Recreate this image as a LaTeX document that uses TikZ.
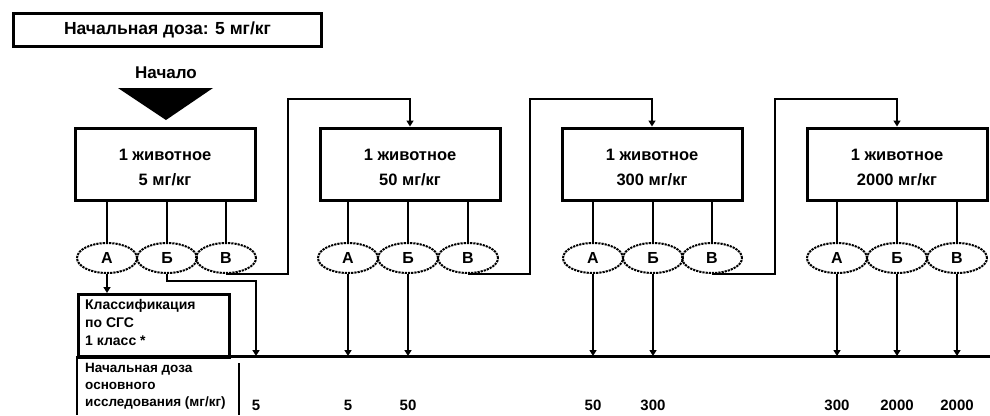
\documentclass[tikz,border=0pt]{standalone}
\usepackage{fontspec}
\setmainfont{Liberation Sans}
\usetikzlibrary{shapes.geometric,arrows.meta}
\begin{document}
\begin{tikzpicture}[x=1pt,y=-1pt,
  box/.style={draw,line width=3pt,minimum width=180pt,minimum height=72pt,inner sep=0pt},
  boxtxt/.style={align=center,font=\fontsize{16.5}{25}\selectfont\bfseries,inner sep=0pt},
  ell/.style={draw,ellipse,dash pattern=on 2.2pt off 1pt,line width=2pt,minimum width=60pt,minimum height=30pt,inner sep=0pt,font=\fontsize{16}{18}\selectfont\bfseries},
  conn/.style={line width=2.6pt},
  arr/.style={line width=2.6pt,-{Triangle[length=6pt,width=7pt]}},
  num/.style={font=\fontsize{15}{17}\selectfont\bfseries,inner sep=0pt},
  lbl/.style={font=\fontsize{14}{18}\selectfont\bfseries,align=left,inner sep=0pt}
]
\useasboundingbox (0,0) rectangle (990,415);
% top box
\node[draw,line width=3pt,minimum width=308pt,minimum height=33pt,inner sep=0pt,font=\fontsize{17.5}{19}\selectfont\bfseries] (topbox) at (167.5,29.5) {Начальная доза: 5 мг/кг};
\node[font=\fontsize{17}{19}\selectfont\bfseries,inner sep=0pt] (start) at (166,73) {Начало};
\fill (118,88) -- (213,88) -- (166,120) -- cycle;
% boxes
\node[box] (b1) at (165,164) {};
\node[box] (b2) at (410,164) {};
\node[box] (b3) at (652,164) {};
\node[box] (b4) at (897,164) {};
\node[boxtxt] (b1t) at (165,167) {1 животное\\5 мг/кг};
\node[boxtxt] (b2t) at (410,167) {1 животное\\50 мг/кг};
\node[boxtxt] (b3t) at (652,167) {1 животное\\300 мг/кг};
\node[boxtxt] (b4t) at (897,167) {1 животное\\2000 мг/кг};
% ellipses
\foreach \k/\xa/\xb/\xc in {1/107/167/226, 2/348/408/468, 3/593/653/712, 4/837/897/957}{
  \node[ell] (e\k a) at (\xa,258) {А};
  \node[ell] (e\k b) at (\xb,258) {Б};
  \node[ell] (e\k v) at (\xc,258) {В};
  \draw[conn] (b\k.south -| e\k a.north) -- (e\k a.north);
  \draw[conn] (b\k.south -| e\k b.north) -- (e\k b.north);
  \draw[conn] (b\k.south -| e\k v.north) -- (e\k v.north);
}
% transitions to next box
\coordinate (t1) at (288,99);
\coordinate (t2) at (530,99);
\coordinate (t3) at (775,99);
\draw[arr] (e1v.south) -| (t1) -| (b2.north);
\draw[arr] (e2v.south) -| (t2) -| (b3.north);
\draw[arr] (e3v.south) -| (t3) -| (b4.north);
% classification box
\node[draw,line width=2.6pt,minimum width=151pt,minimum height=63pt,anchor=north west,inner sep=0pt] (cls) at (77,293) {};
\node[lbl,anchor=north west] (clstxt) at (85,299) {Классификация\\по СГС\\1 класс *};
\draw[arr] (e1a.south) -- (e1a.south |- cls.north);
% base line
\coordinate (bl) at (77,356);
\coordinate (br) at (990,356);
\coordinate (bb) at (77,415);
\draw[line width=3pt] (bl) -- (br);
\draw[line width=2.6pt] (bl) -- (bb);
\coordinate (k1) at (256,281);
\draw[arr] (e1b.south) |- (k1) -- (k1 |- bl);
\foreach \e in {e2a,e2b,e3a,e3b,e4a,e4b,e4v}{
  \draw[arr] (\e.south) -- (\e.south |- bl);
}
% bottom row
\node[lbl,anchor=north west,font=\fontsize{13.5}{17}\selectfont\bfseries] (dtxt) at (85,363) {Начальная доза\\основного\\исследования (мг/кг)};
\coordinate (s1) at (239,363);
\coordinate (s2) at (239,415);
\draw[line width=2.6pt] (s1) -- (s2);
\node[num] (n0) at (256,405) {5};
\node[num] (n1) at (348,405) {5};
\node[num] (n2) at (408,405) {50};
\node[num] (n3) at (593,405) {50};
\node[num] (n4) at (653,405) {300};
\node[num] (n5) at (837,405) {300};
\node[num] (n6) at (897,405) {2000};
\node[num] (n7) at (957,405) {2000};
\end{tikzpicture}
\end{document}
